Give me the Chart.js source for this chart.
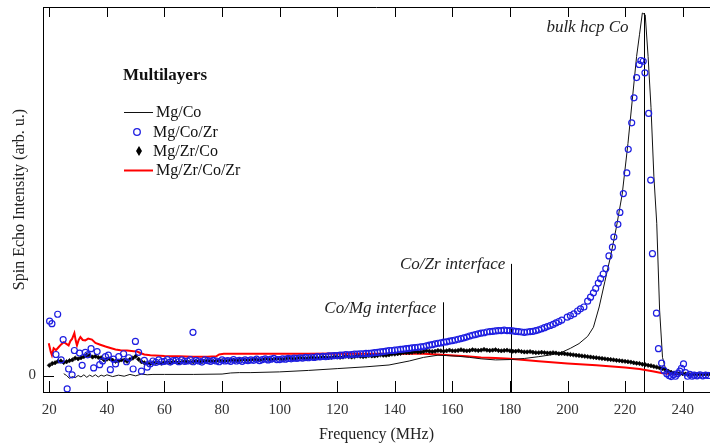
<!DOCTYPE html>
<html>
<head>
<meta charset="utf-8">
<script src="https://cdn.jsdelivr.net/npm/chart.js@4.4.0/dist/chart.umd.min.js"></script>
<style>
  html, body { margin: 0; padding: 0; background: #fff; }
  #wrap { width: 710px; height: 445px; }
</style>
</head>
<body>
<div id="wrap"><canvas id="echoChart" width="710" height="445"></canvas></div>
<script>
// tick labels
var xTicks = [20, 40, 60, 80, 100, 120, 140, 160, 180, 200, 220, 240];
var yTicks = [0];

// Mg/Co (thin black line)
var coFreq = [25, 26, 27, 28, 29, 30, 31, 32, 33, 34, 35, 36, 37, 38, 39, 40,
  42, 44, 46, 48, 50, 52, 54, 56, 60, 70, 80, 83, 86, 90,
  100, 110, 120, 130, 138, 145, 150, 155, 158, 162, 166, 170, 175, 180, 185, 190, 195, 198,
  201, 204, 207, 209, 211, 213, 215, 217, 219, 221, 222.5, 224, 225, 226, 227, 228, 229, 230,
  231, 232, 233, 234, 235, 237, 240, 245, 249.5];
var coValues = [0.5, 0, -0.8, -0.3, -0.6, 0, -0.4, 0.2, -0.5, 0.1, -0.3, 0.2, -0.4, 0.1, -0.2, 0.2,
  -0.3, 0.1, -0.2, 0.3, -0.1, 0.4, 0.2, 0.3, 0.3, 0.3, 0.4, 0.7, 0.8, 0.8,
  1.0, 1.4, 1.9, 2.4, 2.9, 4.0, 5.0, 5.6, 5.5, 5.3, 5.0, 4.6, 4.3, 4.4, 4.7, 5.2, 5.8, 6.4,
  7.5, 8.8, 10.8, 13.3, 18.9, 26, 33, 41, 50, 64, 76, 88, 94, 100, 99.5, 88, 74, 55,
  42, 18, 5, 2, 1.2, 0.8, 0.5, 0.5, 0.4];

// Mg/Co/Zr (blue open circles)
var coZrFreq = [20.1, 20.9, 22.3, 22.9, 24.1, 24.8, 26.2, 26.7, 27.9, 28.7, 30.5, 31.4, 32.5, 33.3,
  34.5, 35.4, 36.6, 37.5, 38.5, 39.5, 40.5, 41.2, 42.3, 43, 44.1, 45.8, 46.8, 47.6, 49.1, 49.9,
  51, 52, 53, 54,
  55, 56, 57, 58, 59, 60, 61, 62, 63, 64, 65, 66, 67, 68, 69, 69.9, 70, 71, 72, 73, 74,
  75, 76, 77, 78, 79, 80, 81, 82, 83, 84, 85, 86, 87, 88, 89, 90, 91, 92, 93, 94,
  95, 96, 97, 98, 99, 100, 101, 102, 103, 104, 105, 106, 107, 108, 109, 110, 111, 112, 113, 114,
  115, 116, 117, 118, 119, 120, 121, 122, 123, 124, 125, 126, 127, 128, 129, 130, 131, 132, 133, 134,
  135, 136, 137, 138, 139, 140, 141, 142, 143, 144, 145, 146, 147, 148, 149, 150, 151, 152, 153, 154,
  155, 156, 157, 158, 159, 160, 161, 162, 163, 164, 165, 166, 167, 168, 169, 170, 171, 172, 173, 174,
  175, 176, 177, 178, 179, 180, 181, 182, 183, 184, 185, 186, 187, 188, 189, 190, 191, 192, 193, 194,
  195, 196, 197, 198,
  199.9, 201, 202.2, 203.5, 204.5, 205.7, 207, 208, 209, 209.8, 210.7, 211.5, 212.4, 213.3, 214.4,
  215.6, 216.1, 217.5, 218.2, 219.4, 220.6, 221.1, 222.3, 223.1, 224, 224.9, 225.5, 226.3, 226.9,
  228.2, 228.9, 229.5, 230.9, 231.6, 232.7, 233.5, 234.5, 235.3, 236, 236.8, 237.5, 238.2, 239,
  239.6, 240.3, 241, 241.7, 242.5, 243.3, 244, 245, 246, 247, 248, 249];
var coZrValues = [15, 14.3, 5.8, 16.9, 4.3, 9.9, -3.7, 1.8, 0.2, 6.9, 6.2, 2.8, 6.4, 5.7,
  7.4, 2.1, 6.6, 3.0, 4.0, 5.2, 5.6, 1.6, 4.5, 3.2, 5.2, 6.0, 3.8, 4.9, 1.8, 9.4,
  6.4, 1.2, 4.2, 2.3,
  3.2, 4.0, 3.6, 4.3, 3.8, 3.9, 4.4, 3.7, 4.1, 4.2, 3.8, 4.3, 3.9, 4.0, 4.4, 11.9, 3.8, 4.2, 4.0, 3.7, 4.3,
  4.1, 3.9, 4.2, 4.0, 3.8, 4.3, 4.0, 4.1, 3.9, 4.4, 4.0, 4.2, 3.9, 4.3, 4.1, 4.3, 4.2, 4.5, 4.1, 4.4,
  4.6, 4.3, 4.5, 4.7, 4.4, 4.4, 4.6, 4.5, 4.7, 4.6, 4.8, 4.7, 4.9, 4.8, 5.0, 4.9, 5.1, 5.0, 5.2, 5.1,
  5.3, 5.2, 5.4, 5.4, 5.5, 5.5, 5.6, 5.6, 5.8, 5.7, 5.8, 5.9, 5.9, 6.0, 6.0, 6.1, 6.1, 6.2, 6.3, 6.4,
  6.5, 6.6, 6.7, 6.9, 6.9, 7.0, 7.1, 7.2, 7.3, 7.4, 7.5, 7.6, 7.7, 7.8, 7.9, 8.0, 8.2, 8.4, 8.5, 8.7,
  8.9, 9.0, 9.2, 9.3, 9.5, 9.6, 9.8, 10.0, 10.2, 10.4, 10.6, 10.9, 11.1, 11.3, 11.5, 11.7, 11.8, 12.0, 12.1, 12.2,
  12.3, 12.4, 12.4, 12.5, 12.4, 12.4, 12.3, 12.2, 12.1, 12.0, 11.9, 12.0, 12.1, 12.2, 12.4, 12.6, 12.9, 13.2, 13.5, 13.8,
  14.1, 14.5, 14.9, 15.3,
  16.1, 16.5, 17, 17.8, 18.4, 18.9, 20.5, 21.6, 22.8, 24, 25.5, 26.7, 28, 29.5, 33,
  35.4, 38.2, 41.7, 45, 50.2, 55.9, 62.4, 69.7, 76.6, 82.2, 85.8, 86.9, 86.7, 83.5,
  72.3, 53.9, 33.6, 17.2, 7.4, 3.4, 1.4, 0.5, 0, -0.3, 0.2, -0.2, 0.5, 1.2,
  2.0, 3.2, 0.8, -0.2, 0.3, -0.2, 0.1, -0.1, 0.2, -0.1, 0.1, 0];

// Mg/Zr/Co (black diamonds)
var zrCoFreq = [20, 21, 22, 23, 24, 25, 26, 27, 28, 29, 30, 31, 32, 33, 34, 35, 36, 37, 38, 39,
  40, 41, 42, 43, 44, 45, 46, 47, 48, 49, 50, 51, 52, 53, 54, 55, 56, 57, 58, 59,
  60, 61, 62, 63, 64, 65, 66, 67, 68, 69, 70, 71, 72, 73, 74, 75, 76, 77, 78, 79,
  80, 81, 82, 83, 84, 85, 86, 87, 88, 89, 90, 91, 92, 93, 94, 95, 96, 97, 98, 99,
  100, 101, 102, 103, 104, 105, 106, 107, 108, 109, 110, 111, 112, 113, 114, 115, 116, 117, 118, 119,
  120, 121, 122, 123, 124, 125, 126, 127, 128, 129, 130, 131, 132, 133, 134, 135, 136, 137, 138, 139,
  140, 141, 142, 143, 144, 145, 146, 147, 148, 149, 150, 151, 152, 153, 154, 155, 156, 157, 158, 159,
  160, 161, 162, 163, 164, 165, 166, 167, 168, 169, 170, 171, 172, 173, 174, 175, 176, 177, 178, 179,
  180, 181, 182, 183, 184, 185, 186, 187, 188, 189, 190, 191, 192, 193, 194, 195, 196, 197, 198, 199,
  200, 201, 202, 203, 204, 205, 206, 207, 208, 209, 210, 211, 212, 213, 214, 215, 216, 217, 218, 219,
  220, 221, 222, 223, 224, 225, 226, 227, 228, 229, 230, 231, 232, 233, 234, 235, 236, 237, 238, 239,
  240, 241, 242, 243, 244, 245, 246, 247, 248, 249];
var zrCoValues = [2.8, 3.3, 3.5, 3.9, 4.0, 3.6, 3.8, 4.1, 4.3, 4.8, 4.6, 4.9, 5.2, 5.6, 5.5, 5.1, 5.3, 5.0, 4.9, 4.3,
  4.5, 4.6, 4.2, 3.9, 4.0, 4.3, 4.2, 3.9, 4.4, 4.8, 5.3, 4.5, 3.8, 3.5, 3.3, 3.2, 3.4, 3.6, 3.5, 3.4,
  3.6, 3.7, 3.6, 3.8, 3.7, 3.6, 3.7, 3.9, 3.8, 3.7, 3.8, 4.0, 3.9, 3.8, 3.9, 4.1, 4.0, 3.9, 4.0, 4.2,
  4.1, 4.0, 4.1, 4.3, 4.2, 4.1, 4.2, 4.4, 4.3, 4.2, 4.3, 4.5, 4.4, 4.3, 4.4, 4.6, 4.5, 4.4, 4.5, 4.7,
  4.6, 4.5, 4.6, 4.8, 4.7, 4.6, 4.7, 4.9, 4.8, 4.7, 4.8, 5.0, 4.9, 4.8, 4.9, 5.1, 5.0, 4.9, 5.0, 5.2,
  5.1, 5.0, 5.1, 5.3, 5.2, 5.1, 5.2, 5.4, 5.3, 5.2, 5.3, 5.5, 5.4, 5.4, 5.5, 5.7, 5.6, 5.6, 5.7, 5.9,
  5.9, 6.0, 6.1, 6.3, 6.3, 6.3, 6.4, 6.6, 6.5, 6.5, 6.6, 6.8, 6.7, 6.6, 6.7, 6.9, 6.8, 6.7, 6.8, 7.0,
  6.8, 6.8, 6.9, 7.1, 6.9, 6.8, 6.9, 7.1, 7.0, 6.9, 7.0, 7.2, 7.0, 6.9, 7.0, 7.1, 6.9, 6.8, 6.9, 7.0,
  6.8, 6.7, 6.7, 6.8, 6.6, 6.5, 6.5, 6.6, 6.4, 6.3, 6.3, 6.4, 6.3, 6.2, 6.2, 6.3, 6.2, 6.0, 6.1, 6.0,
  5.9, 5.8, 5.7, 5.6, 5.5, 5.4, 5.3, 5.2, 5.1, 5.0, 4.9, 4.8, 4.7, 4.6, 4.5, 4.4, 4.3, 4.2, 4.1, 4.0,
  3.9, 3.8, 3.7, 3.5, 3.4, 3.3, 3.1, 3.0, 2.8, 2.7, 2.5, 2.3, 2.1, 1.9, 1.6, 1.2, 0.9, 0.7, 0.6, 0.5,
  0.5, 0.4, 0.4, 0.3, 0.3, 0.3, 0.3, 0.3, 0.3, 0.3];

// Mg/Zr/Co/Zr (red line)
var zrCoZrFreq = [19.8, 20.5, 20.9, 21.5, 22.3, 23.2, 24, 25, 25.8, 26.7, 27.3, 27.9, 28.7, 29.2, 29.6,
  30.2, 30.8, 31.6, 32.5, 33.5, 34.8, 36, 37.7, 39.5, 41.2, 43, 44.7, 47, 49.3, 50.5,
  51.6, 53, 55.1, 60, 65, 70, 75, 78, 79, 80.6, 90, 100, 110, 120, 130, 140, 150, 155, 160.5, 165,
  170, 175, 180, 190, 200, 210, 220, 225, 230, 233, 236, 240, 245, 249.5];
var zrCoZrValues = [8.9, 6.5, 5.6, 7.5, 7.0, 7.8, 8.5, 9.2, 8.8, 8.3, 9.5, 10.1, 11.7, 9.5, 8.3,
  9.8, 10.6, 9.8, 9.7, 10.2, 9.9, 9.0, 8.5, 8.0, 7.6, 7.2, 7.0, 6.9, 6.7, 6.6,
  6.2, 5.8, 5.6, 5.4, 5.3, 5.2, 5.2, 5.3, 5.8, 6.0, 6.0, 6.0, 6.0, 6.1, 6.0, 6.0, 6.0, 5.8, 5.5, 5.3,
  5.0, 4.8, 4.6, 3.9, 3.3, 2.8, 2.2, 1.8, 1.1, 0.6, 0.4, 0.5, 0.4, 0.4];

// marked frequencies (vertical lines) and their labels
var markerFreq = [156.7, 180.2, 226.4];
var markerTop = [20.2, 30.8, 100];
var markerLabels = ["Co/Mg interface", "Co/Zr interface", "bulk hcp Co"];

var serif = '"Liberation Serif", "Times New Roman", serif';

function points(xs, ys) {
  return xs.map(function (f, i) { return { x: f, y: ys[i] }; });
}

// vertical marker lines, top axis, inward ticks, notes and legend
var framePlugin = {
  id: "frame",
  beforeDatasetsDraw: function (chart) {
    var ctx = chart.ctx;
    var xs = chart.scales.x;
    var ys = chart.scales.y;
    ctx.save();
    ctx.strokeStyle = "#000";
    ctx.lineWidth = 1;
    markerFreq.forEach(function (f, i) {
      var px = Math.round(xs.getPixelForValue(f)) + 0.5;
      ctx.beginPath();
      ctx.moveTo(px, ys.getPixelForValue(markerTop[i]));
      ctx.lineTo(px, chart.chartArea.bottom);
      ctx.stroke();
    });
    ctx.restore();
  },
  afterDraw: function (chart) {
    var ctx = chart.ctx;
    var area = chart.chartArea;
    var xs = chart.scales.x;
    var ys = chart.scales.y;
    ctx.save();
    ctx.strokeStyle = "#000";
    ctx.lineWidth = 1;

    // top axis line
    ctx.beginPath();
    ctx.moveTo(area.left, area.top + 0.5);
    ctx.lineTo(area.right, area.top + 0.5);
    ctx.stroke();

    // ticks pointing inside
    xTicks.forEach(function (t) {
      var px = Math.round(xs.getPixelForValue(t)) + 0.5;
      ctx.beginPath();
      ctx.moveTo(px, area.bottom);
      ctx.lineTo(px, area.bottom - 11);
      ctx.moveTo(px, area.top);
      ctx.lineTo(px, area.top + 10);
      ctx.stroke();
    });
    yTicks.forEach(function (t) {
      var py = Math.round(ys.getPixelForValue(t)) + 0.5;
      ctx.beginPath();
      ctx.moveTo(area.left, py);
      ctx.lineTo(area.left + 11, py);
      ctx.stroke();
    });

    // notes beside the marker lines
    ctx.fillStyle = "#222";
    ctx.font = "italic 17px " + serif;
    ctx.textAlign = "right";
    ctx.textBaseline = "middle";
    var noteShift = [-2.3, -1.8, -5.2];
    var noteLevel = [18.6, 30.5, 96];
    markerLabels.forEach(function (txt, i) {
      ctx.fillText(txt, xs.getPixelForValue(markerFreq[i] + noteShift[i]), ys.getPixelForValue(noteLevel[i]));
    });

    // legend
    ctx.textAlign = "left";
    ctx.fillStyle = "#111";
    ctx.font = "bold 17px " + serif;
    ctx.fillText("Multilayers", 123, 76);

    var ds = chart.data.datasets;
    var rows = [112, 132, 151, 170];
    ctx.font = "16px " + serif;
    ds.slice().sort(function (a, b) { return a.legendRow - b.legendRow; }).forEach(function (d, i) {
      var y = rows[i];
      if (d.showLine) {
        ctx.strokeStyle = d.borderColor;
        ctx.lineWidth = d.borderWidth;
        ctx.beginPath();
        ctx.moveTo(124, y + 0.5);
        ctx.lineTo(153, y + 0.5);
        ctx.stroke();
      } else if (d.pointStyle === "circle") {
        ctx.strokeStyle = d.borderColor;
        ctx.lineWidth = 1.3;
        ctx.beginPath();
        ctx.arc(137, y, 3.3, 0, Math.PI * 2);
        ctx.stroke();
      } else {
        ctx.fillStyle = "#000";
        ctx.beginPath();
        ctx.moveTo(139, y - 5);
        ctx.lineTo(142, y);
        ctx.lineTo(139, y + 5);
        ctx.lineTo(136, y);
        ctx.closePath();
        ctx.fill();
      }
      ctx.fillStyle = "#111";
      ctx.fillText(d.label, d.showLine ? 156 : 153, y + 1);
    });
    ctx.restore();
  }
};

var ctx = document.getElementById("echoChart").getContext("2d");
new Chart(ctx, {
  type: "scatter",
  data: {
    datasets: [
      {
        label: "Mg/Co/Zr",
        legendRow: 1,
        data: points(coZrFreq, coZrValues),
        showLine: false,
        pointStyle: "circle",
        pointRadius: 3,
        pointBorderWidth: 1.2,
        borderColor: "rgb(30, 30, 225)",
        backgroundColor: "rgba(0, 0, 0, 0)",
        order: 0,
      },
      {
        label: "Mg/Zr/Co",
        legendRow: 2,
        data: points(zrCoFreq, zrCoValues),
        showLine: false,
        pointStyle: "rectRot",
        pointRadius: 2.2,
        pointBorderWidth: 0.6,
        borderColor: "#000",
        backgroundColor: "#000",
        order: 1,
      },
      {
        label: "Mg/Co",
        legendRow: 0,
        data: points(coFreq, coValues),
        showLine: true,
        borderColor: "#111",
        borderWidth: 1,
        pointRadius: 0,
        tension: 0,
        order: 2,
      },
      {
        label: "Mg/Zr/Co/Zr",
        legendRow: 3,
        data: points(zrCoZrFreq, zrCoZrValues),
        showLine: true,
        borderColor: "rgb(255, 0, 0)",
        borderWidth: 2,
        pointRadius: 0,
        tension: 0,
        order: 3,
      },
    ],
  },
  options: {
    responsive: false,
    animation: false,
    devicePixelRatio: 1,
    layout: { autoPadding: false, padding: { top: 7, right: 0, bottom: 0, left: 0 } },
    plugins: {
      legend: { display: false },
      tooltip: { enabled: false },
    },
    scales: {
      x: {
        type: "linear",
        min: 17.8,
        max: 249.5,
        afterBuildTicks: function (scale) {
          scale.ticks = xTicks.map(function (v) { return { value: v }; });
        },
        afterFit: function (scale) {
          scale.height = 53;
          scale.paddingLeft = 0;
          scale.paddingRight = 0;
        },
        grid: { display: false, drawTicks: false },
        border: { display: true, color: "#000", width: 1 },
        ticks: { padding: 9, color: "#333", font: { family: serif, size: 15 } },
        title: {
          display: true,
          text: "Frequency (MHz)",
          color: "#222",
          font: { family: serif, size: 16 },
          padding: { top: 0, bottom: 1 },
        },
      },
      y: {
        type: "linear",
        min: -4.55,
        max: 101.66,
        afterBuildTicks: function (scale) {
          scale.ticks = yTicks.map(function (v) { return { value: v }; });
        },
        afterFit: function (scale) {
          scale.width = 43;
          scale.paddingTop = 0;
          scale.paddingBottom = 0;
        },
        grid: { display: false, drawTicks: false },
        border: { display: true, color: "#000", width: 1 },
        ticks: { padding: 7, color: "#333", font: { family: serif, size: 15 } },
        title: {
          display: true,
          text: "Spin Echo Intensity (arb. u.)",
          color: "#222",
          font: { family: serif, size: 16 },
          padding: { top: 10, bottom: 0 },
        },
      },
    },
  },
  plugins: [framePlugin],
});
</script>
</body>
</html>
